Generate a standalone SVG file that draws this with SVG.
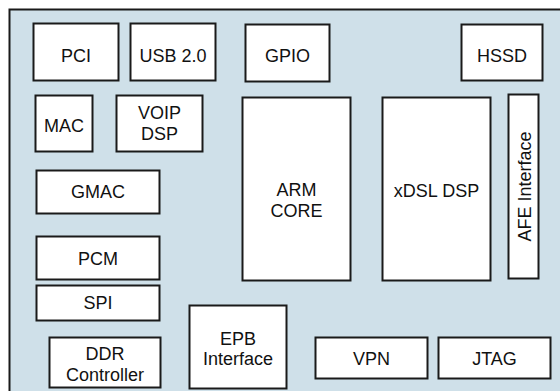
<svg xmlns="http://www.w3.org/2000/svg" width="560" height="391" viewBox="0 0 560 391">
<style>
.b{fill:#ffffff;stroke:#1a1a1a;stroke-width:2}
.t{font-family:"Liberation Sans",Arial,sans-serif;font-size:18px;fill:#111;text-anchor:middle}
</style>
<rect x="0" y="0" width="560" height="391" fill="#ffffff"/>
<rect x="9.5" y="9.5" width="560" height="400" fill="#cfe0e9" stroke="#1a1a1a" stroke-width="2"/>
<g id="pci"><rect class="b" x="33.5" y="23.5" width="85" height="57"/><text class="t" x="76" y="62">PCI</text></g>
<g id="usb"><rect class="b" x="130.5" y="23.5" width="85" height="57"/><text class="t" x="173" y="62">USB 2.0</text></g>
<g id="gpio"><rect class="b" x="245.5" y="24.5" width="84" height="57"/><text class="t" x="287.5" y="62">GPIO</text></g>
<g id="hssd"><rect class="b" x="461.5" y="24.5" width="81" height="56"/><text class="t" x="502" y="62">HSSD</text></g>
<g id="mac"><rect class="b" x="35.5" y="95.5" width="57" height="56"/><text class="t" x="64" y="132">MAC</text></g>
<g id="voip"><rect class="b" x="116.5" y="95.5" width="86" height="56"/><text class="t" x="159.5" y="119">VOIP</text><text class="t" x="159.5" y="140">DSP</text></g>
<g id="arm"><rect class="b" x="242.5" y="97.5" width="108" height="183"/><text class="t" x="296.5" y="196">ARM</text><text class="t" x="296.5" y="217">CORE</text></g>
<g id="xdsl"><rect class="b" x="382.5" y="97.5" width="108" height="183"/><text class="t" x="436.5" y="197">xDSL DSP</text></g>
<g id="afe"><rect class="b" x="508.5" y="94.5" width="30" height="184"/><text class="t" transform="translate(530.5 186.5) rotate(-90)" x="0" y="0">AFE Interface</text></g>
<g id="gmac"><rect class="b" x="36.5" y="170.5" width="123" height="43"/><text class="t" x="98" y="198">GMAC</text></g>
<g id="pcm"><rect class="b" x="36.5" y="236.5" width="123" height="43"/><text class="t" x="98" y="265">PCM</text></g>
<g id="spi"><rect class="b" x="36.5" y="285.5" width="123" height="35"/><text class="t" x="98" y="309">SPI</text></g>
<g id="ddr"><rect class="b" x="49.5" y="337.5" width="111" height="50"/><text class="t" x="105" y="360">DDR</text><text class="t" x="105" y="381">Controller</text></g>
<g id="epb"><rect class="b" x="189.5" y="305.5" width="97" height="83"/><text class="t" x="238" y="345">EPB</text><text class="t" x="238" y="365">Interface</text></g>
<g id="vpn"><rect class="b" x="315.5" y="337.5" width="112" height="41"/><text class="t" x="371.5" y="365">VPN</text></g>
<g id="jtag"><rect class="b" x="438.5" y="337.5" width="112" height="41"/><text class="t" x="494.5" y="365">JTAG</text></g>
<g id="connectors"></g>
</svg>
